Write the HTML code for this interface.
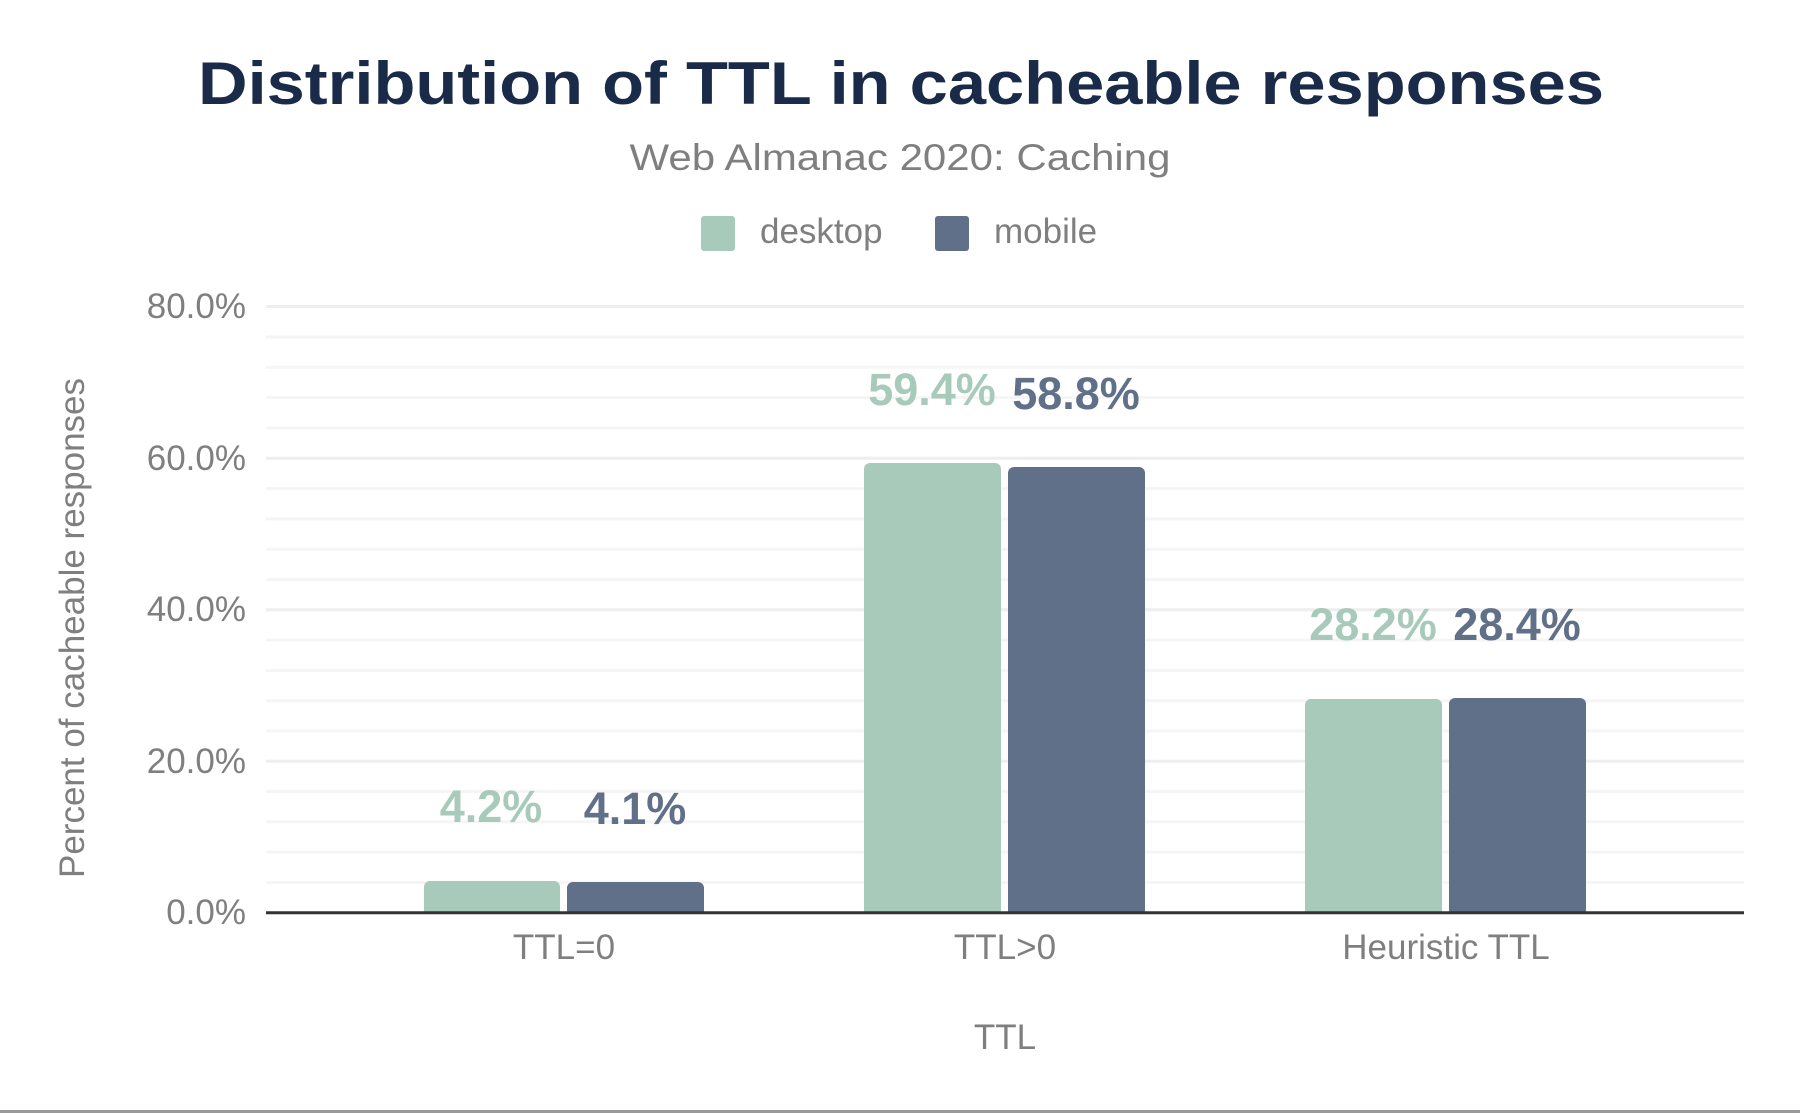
<!DOCTYPE html>
<html><head><meta charset="utf-8"><style>html,body{margin:0;padding:0;background:#fff}svg{display:block}</style></head>
<body>
<svg width="1800" height="1113" viewBox="0 0 1800 1113" xmlns="http://www.w3.org/2000/svg" font-family="Liberation Sans, Arial, sans-serif">
<defs><clipPath id="c"><rect x="0" y="0" width="1800" height="912"/></clipPath></defs>
<rect width="1800" height="1113" fill="#fff"/>
<text x="901" y="104" text-anchor="middle" font-size="60" font-weight="bold" fill="#1a2b49" textLength="1406" lengthAdjust="spacingAndGlyphs">Distribution of TTL in cacheable responses</text>
<text x="900" y="170" text-anchor="middle" font-size="37" fill="#7f7f7f" textLength="541" lengthAdjust="spacingAndGlyphs">Web Almanac 2020: Caching</text>
<rect x="701" y="216" width="34" height="35" rx="3" fill="#a8cabb"/>
<text x="760" y="243" font-size="35" fill="#7f7f7f">desktop</text>
<rect x="935" y="216" width="34" height="35" rx="3" fill="#617089"/>
<text x="994" y="243" font-size="35" fill="#7f7f7f">mobile</text>
<g stroke="#f5f5f5" stroke-width="3">
<line x1="266" x2="1744" y1="337" y2="337"/><line x1="266" x2="1744" y1="367.3" y2="367.3"/><line x1="266" x2="1744" y1="397.6" y2="397.6"/><line x1="266" x2="1744" y1="428" y2="428"/>
<line x1="266" x2="1744" y1="488.6" y2="488.6"/><line x1="266" x2="1744" y1="518.9" y2="518.9"/><line x1="266" x2="1744" y1="549.2" y2="549.2"/><line x1="266" x2="1744" y1="579.5" y2="579.5"/>
<line x1="266" x2="1744" y1="640.1" y2="640.1"/><line x1="266" x2="1744" y1="670.4" y2="670.4"/><line x1="266" x2="1744" y1="700.7" y2="700.7"/><line x1="266" x2="1744" y1="731" y2="731"/>
<line x1="266" x2="1744" y1="791.5" y2="791.5"/><line x1="266" x2="1744" y1="821.8" y2="821.8"/><line x1="266" x2="1744" y1="852.1" y2="852.1"/><line x1="266" x2="1744" y1="882.4" y2="882.4"/>
</g>
<g stroke="#eeeeee" stroke-width="3">
<line x1="266" x2="1744" y1="306.5" y2="306.5"/><line x1="266" x2="1744" y1="458.3" y2="458.3"/><line x1="266" x2="1744" y1="609.8" y2="609.8"/><line x1="266" x2="1744" y1="761.2" y2="761.2"/>
</g>
<g font-size="35" fill="#7f7f7f" text-anchor="end">
<text x="246" y="318">80.0%</text><text x="246" y="470">60.0%</text><text x="246" y="621">40.0%</text><text x="246" y="773">20.0%</text><text x="246" y="924">0.0%</text>
</g>
<text transform="translate(84,628) rotate(-90)" text-anchor="middle" font-size="35" fill="#7f7f7f">Percent of cacheable responses</text>
<g clip-path="url(#c)">
<g fill="#a8cabb">
<rect x="424" y="881" width="136" height="45" rx="6"/>
<rect x="864" y="463" width="137" height="460" rx="6"/>
<rect x="1305" y="699" width="137" height="225" rx="6"/>
</g>
<g fill="#617089">
<rect x="567" y="882" width="137" height="45" rx="6"/>
<rect x="1008" y="467" width="137" height="460" rx="6"/>
<rect x="1449" y="698" width="137" height="225" rx="6"/>
</g>
</g>
<line x1="266" x2="1744" y1="912.7" y2="912.7" stroke="#333" stroke-width="3"/>
<g font-size="35" fill="#7f7f7f" text-anchor="middle">
<text x="564" y="959">TTL=0</text><text x="1005" y="959">TTL&gt;0</text><text x="1446" y="959">Heuristic TTL</text>
<text x="1005" y="1049">TTL</text>
</g>
<g font-size="45" font-weight="bold" text-anchor="middle">
<text x="491" y="822" fill="#a8cabb">4.2%</text><text x="635" y="824" fill="#617089">4.1%</text>
<text x="932" y="405" fill="#a8cabb">59.4%</text><text x="1076" y="409" fill="#617089">58.8%</text>
<text x="1373" y="640" fill="#a8cabb">28.2%</text><text x="1517" y="640" fill="#617089">28.4%</text>
</g>
<line x1="0" x2="1800" y1="1111.5" y2="1111.5" stroke="#999" stroke-width="3"/>
</svg>
</body></html>
